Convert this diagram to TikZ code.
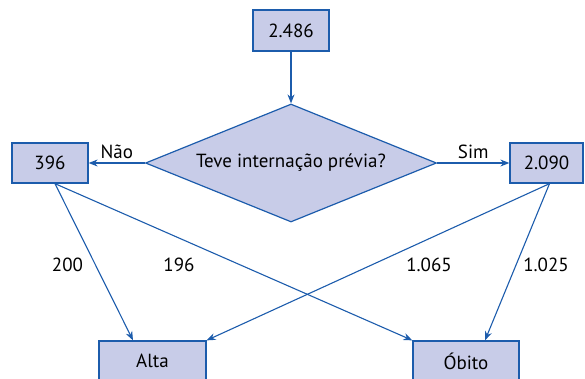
\documentclass[tikz,border=0pt]{standalone}
\usepackage{fontspec}
\setmainfont{PT Sans}
\usepackage{tikz}
\usetikzlibrary{arrows.meta,positioning,shapes.geometric}
\definecolor{boxfill}{RGB}{200,204,232}
\definecolor{boxline}{RGB}{28,92,172}

\begin{document}
\begin{tikzpicture}[x=1pt,y=-1pt,font=\fontsize{19}{21}\selectfont,
  caixa/.style={draw=boxline,fill=boxfill,line width=1.3pt,inner sep=0pt,minimum height=40pt},
  losango/.style={diamond,draw=boxline,fill=boxfill,line width=1.2pt,inner sep=0pt,aspect=2.47,minimum width=291pt,minimum height=118pt},
  seta/.style={-{Stealth[length=9pt,width=7pt]},color=boxline,line width=1.1pt}]
\useasboundingbox (0,0) rectangle (585,378);
\node[caixa,minimum width=76pt,minimum height=41pt] (T) at (291,30.5) {2.486};
\node[losango] (Q) at (291,163) {Teve internação prévia?};
\node[caixa,minimum width=76pt] (N) at (50,163) {396};
\node[caixa,minimum width=73pt] (S) at (546.5,163) {2.090};
\node[caixa,minimum width=107pt] (A) at (152.5,361) {Alta};
\node[caixa,minimum width=106pt] (O) at (466,361) {Óbito};
\coordinate (N0) at ([xshift=5pt]N.south);
\coordinate (S0) at ([xshift=3pt]S.south);
\coordinate (A1) at ([xshift=-19.5pt]A.north);
\coordinate (O1) at ([xshift=19pt]O.north);
\path[seta]
(T) edge (Q)
(Q.west) edge node[above,text=black] {Não} (N)
(Q.east) edge node[above,text=black] {Sim} (S)
(N0) edge (A1)
(N0) edge (O.north west)
(S0) edge (A.north east)
(S0) edge (O1);
\node (L1) at (67.5,265) {200};
\node (L2) at (179,265) {196};
\node (L3) at (429,265) {1.065};
\node (L4) at (546,265) {1.025};
\end{tikzpicture}
\end{document}
